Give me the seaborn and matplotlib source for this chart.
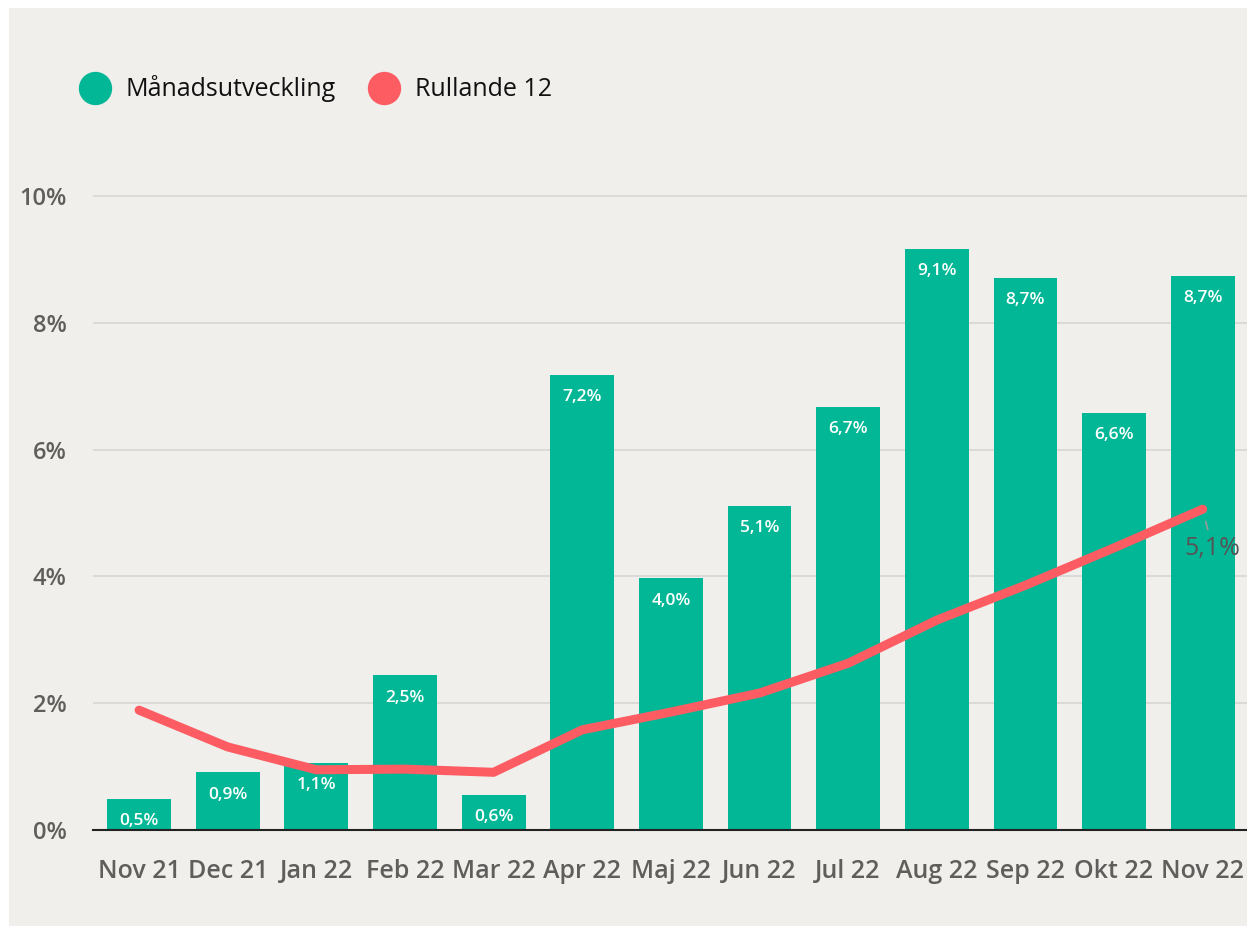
import numpy as np
import pandas as pd
import seaborn as sns
import matplotlib.pyplot as plt
from matplotlib.patches import Rectangle
from matplotlib.lines import Line2D

months = ['Nov 21', 'Dec 21', 'Jan 22', 'Feb 22', 'Mar 22', 'Apr 22', 'Maj 22',
          'Jun 22', 'Jul 22', 'Aug 22', 'Sep 22', 'Okt 22', 'Nov 22']
monthly = [0.49, 0.91, 1.06, 2.44, 0.55, 7.18, 3.97, 5.11, 6.67, 9.16, 8.71, 6.58, 8.74]
monthly_labels = ['0,5%', '0,9%', '1,1%', '2,5%', '0,6%', '7,2%', '4,0%',
                  '5,1%', '6,7%', '9,1%', '8,7%', '6,6%', '8,7%']
rolling12 = [1.89, 1.31, 0.95, 0.96, 0.91, 1.58, 1.86, 2.16, 2.63, 3.31, 3.86, 4.45, 5.06]
last_label = '5,1%'

bar_color = '#01b796'
line_color = '#fd5c63'
bg = '#f0efeb'
tick_color = '#605e5c'

df = pd.DataFrame({'month': months, 'monthly': monthly, 'rolling': rolling12})

sns.set_style('white')
plt.rcParams['font.family'] = ['Open Sans', 'DejaVu Sans']

fig = plt.figure(figsize=(12.47, 9.26), dpi=100)
fig.patch.set_facecolor('white')
fig.patches.append(Rectangle((9 / 1247, 0), 1 - 9 / 1247, 1 - 8 / 926,
                             transform=fig.transFigure, facecolor=bg,
                             edgecolor='none', zorder=-10))

ax = fig.add_axes([93 / 1247, 1 - 830 / 926, 1 - 93 / 1247, 660 / 926])
ax.set_facecolor(bg)

sns.barplot(data=df, x='month', y='monthly', color=bar_color, width=0.72,
            saturation=1, linewidth=0, ax=ax, zorder=2)
sns.lineplot(data=df, x='month', y='rolling', color=line_color, linewidth=6.5,
             ax=ax, zorder=3, sort=False)
for line in ax.lines:
    line.set_solid_capstyle('round')
    line.set_solid_joinstyle('round')

# labels inside bars
for i, (v, lab) in enumerate(zip(monthly, monthly_labels)):
    ax.annotate(lab, (i, v), xytext=(0, -16), textcoords='offset points',
                ha='center', va='center', color='white', fontsize=12.5,
                fontweight='semibold', zorder=4)

# label for last rolling point
n = len(months) - 1
ax.annotate(last_label, (n, rolling12[-1]), xytext=(7, -28),
            textcoords='offset points', ha='center', va='center',
            color='#555555', fontsize=18, zorder=5,
            arrowprops=dict(arrowstyle='-', color='#9a9a9a', lw=1.2,
                            shrinkA=2, shrinkB=9))

ax.set_xlim(-0.52, 12.5)
ax.set_ylim(0, 660 / 63.4)
ax.set_yticks([0, 2, 4, 6, 8, 10])
ax.set_yticklabels(['0%', '2%', '4%', '6%', '8%', '10%'])
ax.yaxis.grid(True, color='#d8d8d8', linewidth=1.3, zorder=0)
ax.set_axisbelow(True)
ax.tick_params(axis='both', length=0, labelcolor=tick_color)
ax.tick_params(axis='y', pad=19, labelsize=17)
ax.tick_params(axis='x', pad=21, labelsize=18)
for lab in ax.get_xticklabels() + ax.get_yticklabels():
    lab.set_fontweight('semibold')
for lab in ax.get_yticklabels():
    lab.set_va('center_baseline')
ax.set_xlabel('')
ax.set_ylabel('')
for s in ['top', 'right', 'left']:
    ax.spines[s].set_visible(False)
ax.spines['bottom'].set_color('#222222')
ax.spines['bottom'].set_linewidth(1.5)

handles = [Line2D([], [], marker='o', linestyle='none', markersize=24,
                  markerfacecolor=bar_color, markeredgecolor='none'),
           Line2D([], [], marker='o', linestyle='none', markersize=24,
                  markerfacecolor=line_color, markeredgecolor='none')]
fig.legend(handles, ['Månadsutveckling', 'Rullande 12'], loc='center left',
           bbox_to_anchor=(47 / 1247, 1 - 89 / 926), ncol=2, frameon=False,
           fontsize=18, handletextpad=0.25, columnspacing=0.9,
           labelcolor='#111111')

fig.savefig('out.png', dpi=100, facecolor=fig.get_facecolor())
